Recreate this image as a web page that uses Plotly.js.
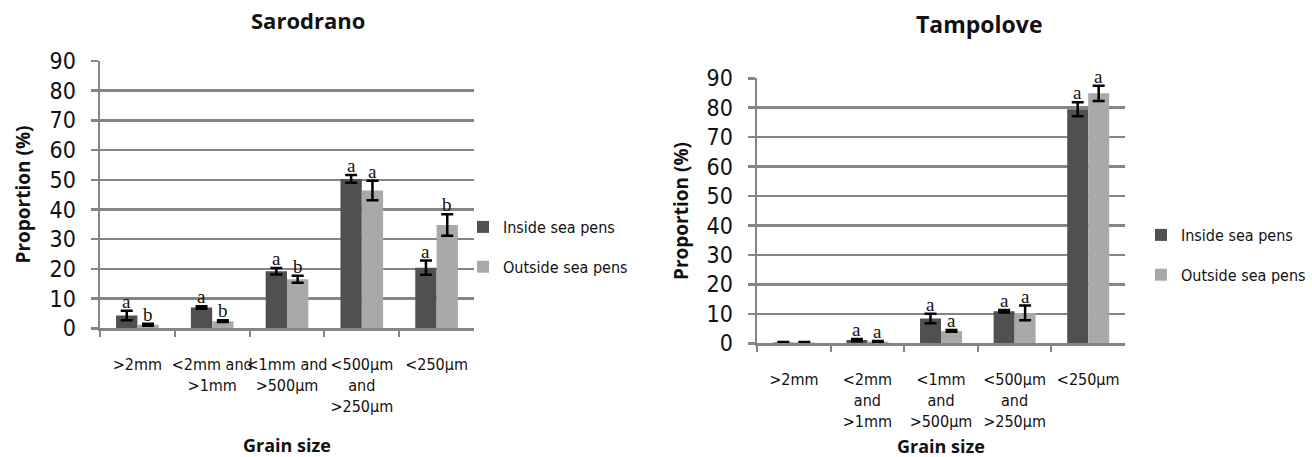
<!DOCTYPE html>
<html>
<head>
<meta charset="utf-8">
<script src="https://cdn.plot.ly/plotly-3.0.1.min.js"></script>
<style>html,body{margin:0;padding:0;background:#fff;}#chart{width:1312px;height:457px;}</style>
</head>
<body>
<div id="chart"></div>
<script>
// ---- data ----
const categories = ['>2mm', '<2mm and >1mm', '<1mm and >500µm', '<500µm and >250µm', '<250µm'];
const ticksSarodrano = ['>2mm', '<2mm and<br>>1mm', '<1mm and<br>>500µm', '<500µm<br>and<br>>250µm', '<250µm'];
const ticksTampolove = ['>2mm', '<2mm<br>and<br>>1mm', '<1mm<br>and<br>>500µm', '<500µm<br>and<br>>250µm', '<250µm'];
const seriesNames = ['Inside sea pens', 'Outside sea pens'];

const sarInside = [4.3, 7.0, 19.2, 50.3, 20.4];
const sarInsideErr = [1.6, 0.4, 1.1, 1.3, 2.4];
const sarOutside = [1.2, 2.4, 16.5, 46.4, 34.8];
const sarOutsideErr = [0.3, 0.3, 1.2, 3.3, 3.6];
const sarInsideLetters = ['a', 'a', 'a', 'a', 'a'];
const sarOutsideLetters = ['b', 'b', 'b', 'a', 'b'];

const tamInside = [0.3, 1.1, 8.4, 10.9, 79.5];
const tamInsideErr = [0.1, 0.4, 1.6, 0.4, 2.4];
const tamOutside = [0.3, 0.6, 4.2, 10.3, 84.9];
const tamOutsideErr = [0.1, 0.2, 0.3, 2.5, 2.6];
const tamInsideLetters = ['', 'a', 'a', 'a', 'a'];
const tamOutsideLetters = ['', 'a', 'a', 'a', 'a'];

// ---- styles ----
const W = 1312, H = 457;
const darkCol = '#505050', lightCol = '#a9a9a9', gridCol = '#858585';
const sansFont = 'Liberation Sans Narrow, DejaVu Sans Condensed, Arial Narrow, sans-serif';
const boldFont = 'Open Sans, Lato, sans-serif';
const serifFont = 'Liberation Serif, Times New Roman, serif';
const bargap = 0.43;
const errStyle = {type: 'data', visible: true, color: '#000', thickness: 2.5, width: 6};

const dom = {
  x1: [100 / W, 474 / W], y1: [(H - 328.3) / H, (H - 61) / H],
  x2: [757 / W, 1125 / W], y2: [(H - 343.3) / H, (H - 78.3) / H]
};

function bar(y, err, color, name, xa, ya, legend, group) {
  return {
    type: 'bar', x: categories, y: y, name: name, xaxis: xa, yaxis: ya,
    marker: {color: color, line: {width: 0}},
    error_y: Object.assign({array: err}, errStyle),
    legend: legend, legendgroup: group, hoverinfo: 'skip'
  };
}

const data = [
  bar(sarInside, sarInsideErr, darkCol, seriesNames[0], 'x', 'y', 'legend', 'g1'),
  bar(sarOutside, sarOutsideErr, lightCol, seriesNames[1], 'x', 'y', 'legend', 'g2'),
  bar(tamInside, tamInsideErr, darkCol, seriesNames[0], 'x2', 'y2', 'legend2', 'g3'),
  bar(tamOutside, tamOutsideErr, lightCol, seriesNames[1], 'x2', 'y2', 'legend2', 'g4')
];

// letter annotations above error bars
const annotations = [];
function addLetters(vals, errs, letters, xref, yref, domX, side) {
  const catPx = (domX[1] - domX[0]) * W / categories.length;
  const shift = side * catPx * (1 - bargap) / 4;
  letters.forEach((t, i) => {
    if (!t) return;
    annotations.push({
      xref: xref, yref: yref, x: categories[i], y: vals[i] + errs[i],
      xshift: shift, yshift: -3, yanchor: 'bottom', showarrow: false, text: t,
      font: {family: serifFont, size: 19, color: '#111'}
    });
  });
}
addLetters(sarInside, sarInsideErr, sarInsideLetters, 'x', 'y', dom.x1, -1);
addLetters(sarOutside, sarOutsideErr, sarOutsideLetters, 'x', 'y', dom.x1, 1);
addLetters(tamInside, tamInsideErr, tamInsideLetters, 'x2', 'y2', dom.x2, -1);
addLetters(tamOutside, tamOutsideErr, tamOutsideLetters, 'x2', 'y2', dom.x2, 1);

// chart titles and axis titles
function label(x, y, text, size, angle) {
  annotations.push({xref: 'paper', yref: 'paper', x: x / W, y: (H - y) / H, text: '<b>' + text + '</b>',
    showarrow: false, xanchor: 'center', yanchor: 'middle', textangle: angle || 0,
    font: {family: boldFont, size: size, color: '#111'}});
}
label(308, 20, 'Sarodrano', 22);
label(979, 24, 'Tampolove', 23);
label(287, 445, 'Grain size', 18);
label(941, 446, 'Grain size', 18);
label(22, 194.5, 'Proportion (%)', 19, -90);
label(681, 211, 'Proportion (%)', 19, -90);

function yaxis(domain, anchor) {
  return {
    domain: domain, anchor: anchor, range: [0, 90], dtick: 10, tick0: 0, fixedrange: true,
    showgrid: true, gridcolor: gridCol, gridwidth: 2.5, zeroline: false,
    showline: true, linecolor: gridCol, linewidth: 2.5,
    ticks: 'outside', ticklen: 7, tickwidth: 2.5, tickcolor: gridCol, ticklabelstandoff: 10,
    tickfont: {family: sansFont, size: 23, color: '#111'}
  };
}
function xaxis(domain, anchor, ticktext) {
  return {
    domain: domain, anchor: anchor, type: 'category', fixedrange: true,
    tickmode: 'array', tickvals: categories, ticktext: ticktext,
    showgrid: false, zeroline: false, showline: true, linecolor: gridCol, linewidth: 2.5,
    ticks: 'outside', tickson: 'boundaries', ticklen: 6, tickwidth: 2, tickcolor: gridCol,
    tickangle: 0, ticklabelstandoff: 20,
    tickfont: {family: sansFont, size: 16, color: '#111'}
  };
}

const legendBase = {
  xanchor: 'left', yanchor: 'top', traceorder: 'grouped', tracegroupgap: 16,
  bgcolor: 'rgba(0,0,0,0)', font: {family: sansFont, size: 16, color: '#111'},
  itemwidth: 30, itemclick: false, itemdoubleclick: false
};

const layout = {
  width: W, height: H, margin: {l: 0, r: 0, t: 0, b: 0},
  paper_bgcolor: '#fff', plot_bgcolor: '#fff',
  barmode: 'group', bargap: bargap, bargroupgap: 0, showlegend: true,
  xaxis: xaxis(dom.x1, 'y', ticksSarodrano),
  yaxis: yaxis(dom.y1, 'x'),
  xaxis2: xaxis(dom.x2, 'y2', ticksTampolove),
  yaxis2: yaxis(dom.y2, 'x2'),
  legend: Object.assign({x: 463 / W, y: (H - 210) / H}, legendBase),
  legend2: Object.assign({x: 1141 / W, y: (H - 218) / H}, legendBase),
  annotations: annotations
};

Plotly.newPlot('chart', data, layout, {staticPlot: true, displayModeBar: false});
</script>
</body>
</html>
